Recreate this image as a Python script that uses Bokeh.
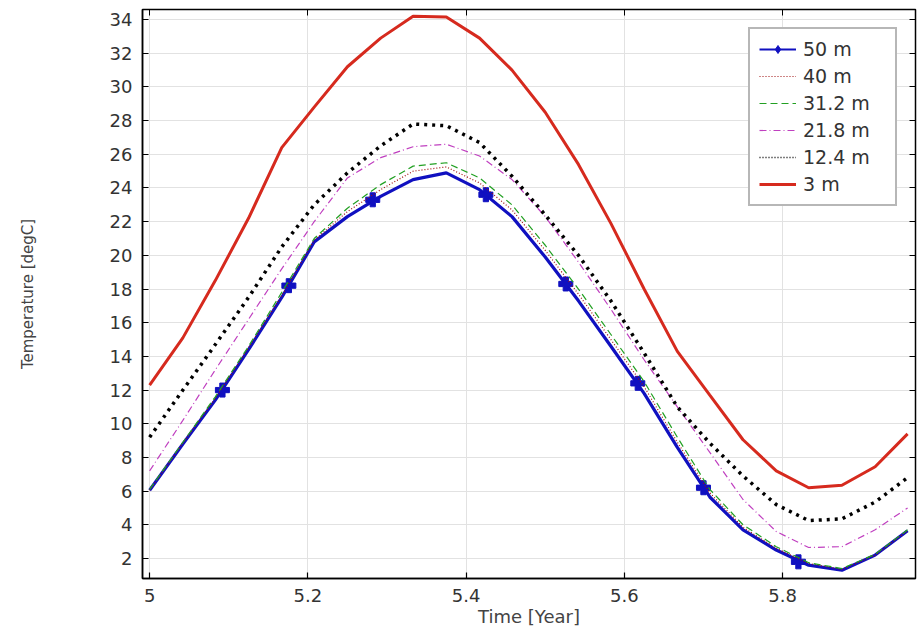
from bokeh.plotting import figure
from bokeh.models import (LinearAxis, FixedTicker, CustomJSTickFormatter, Legend,
                          LegendItem, Range1d)
from bokeh.embed import file_html
from bokeh.resources import INLINE

# ---- data ----
time_year = [5.000, 5.042, 5.083, 5.125, 5.167, 5.208, 5.250, 5.292, 5.333, 5.375,
             5.417, 5.458, 5.500, 5.542, 5.583, 5.625, 5.667, 5.708, 5.750, 5.792,
             5.833, 5.875, 5.917, 5.958]

temp_50m = [6.05, 8.8, 11.4, 14.4, 17.5, 20.8, 22.3, 23.5, 24.5, 24.9, 23.9, 22.3,
            19.9, 17.3, 14.6, 11.8, 8.6, 5.65, 3.7, 2.5, 1.6, 1.3, 2.2, 3.65]
temp_40m = [6.05, 8.85, 11.5, 14.5, 17.6, 20.9, 22.6, 23.9, 25.0, 25.25, 24.3, 22.7,
            20.3, 17.7, 15.0, 12.2, 8.9, 5.9, 3.85, 2.6, 1.7, 1.35, 2.2, 3.65]
temp_31m = [6.1, 8.9, 11.6, 14.6, 17.8, 21.0, 22.8, 24.2, 25.3, 25.5, 24.6, 23.0,
            20.6, 18.0, 15.3, 12.5, 9.2, 6.1, 4.0, 2.7, 1.75, 1.4, 2.25, 3.7]
temp_21m = [7.2, 10.2, 13.2, 16.2, 19.2, 22.0, 24.6, 25.8, 26.45, 26.6, 25.9, 24.5,
            22.3, 19.6, 16.8, 13.8, 11.0, 8.3, 5.5, 3.6, 2.65, 2.7, 3.7, 5.0]
temp_12m = [9.2, 12.0, 14.7, 17.5, 20.5, 23.0, 24.9, 26.5, 27.8, 27.7, 26.7, 24.7,
            22.4, 20.0, 17.3, 14.2, 11.0, 8.85, 6.9, 5.2, 4.25, 4.35, 5.35, 6.8]
temp_3m = [12.3, 15.1, 18.5, 22.2, 26.4, 28.8, 31.2, 32.9, 34.2, 34.15, 32.9, 31.0,
           28.5, 25.4, 21.9, 18.0, 14.3, 11.7, 9.05, 7.2, 6.2, 6.35, 7.45, 9.4]

marker_time_50m = [5.092, 5.176, 5.282, 5.425, 5.526, 5.617, 5.700, 5.820]
marker_temp_50m = [12.0, 18.2, 23.3, 23.6, 18.3, 12.4, 6.2, 1.8]

x_ticks = [5.0, 5.2, 5.4, 5.6, 5.8]
y_ticks = [2, 4, 6, 8, 10, 12, 14, 16, 18, 20, 22, 24, 26, 28, 30, 32, 34]

FONT = "DejaVu Sans"
NAN = float("nan")

p = figure(width=923, height=630, output_backend="svg", toolbar_location=None,
           x_range=Range1d(4.991, 5.968), y_range=Range1d(0.81, 34.6),
           min_border_left=142, min_border_right=8, min_border_top=9,
           min_border_bottom=52)

p.background_fill_color = "white"
p.border_fill_color = "white"
p.outline_line_color = "black"
p.outline_line_width = 1.5

# lines
l50 = p.line(time_year, temp_50m, line_color="#1010c0", line_width=3.2)
s50 = p.scatter(marker_time_50m, marker_temp_50m, marker="plus", size=14,
                fill_color="#1010c0", line_color="#1010c0")
l40 = p.line(time_year, temp_40m, line_color="#a01010", line_width=1.2, line_dash="1 2")
l31 = p.line(time_year, temp_31m, line_color="#22a022", line_width=1.2, line_dash="7 4")
l21 = p.line(time_year, temp_21m, line_color="#c040c0", line_width=1.2, line_dash="7 3 1 3")
l12 = p.line(time_year, temp_12m, line_color="black", line_width=3.5, line_dash="3 5")
l3 = p.line(time_year, temp_3m, line_color="#d62a1e", line_width=3)

# legend-only glyphs (the reference legend shows thinner styles); not visible in the frame
leg50_line = p.line([NAN], [NAN], line_color="#1010c0", line_width=2)
leg50_marker = p.scatter([NAN], [NAN], marker="diamond", size=11,
                         fill_color="#1010c0", line_color="#1010c0")
leg12 = p.line([NAN], [NAN], line_color="black", line_width=1.3, line_dash="1 2")

# axes
xfmt = CustomJSTickFormatter(code="return (Math.round(tick*10)/10).toString();")
for ax in p.xaxis:
    ax.ticker = FixedTicker(ticks=x_ticks)
    ax.formatter = xfmt
    ax.axis_label = "Time [Year]"
    ax.axis_label_standoff = 1
    ax.major_label_standoff = 10
for ax in p.yaxis:
    ax.ticker = FixedTicker(ticks=y_ticks)
    ax.axis_label = "Temperature [degC]"
    ax.axis_label_standoff = 70
    ax.major_label_standoff = 10

for ax in list(p.xaxis) + list(p.yaxis):
    ax.major_tick_in = 6
    ax.major_tick_out = 0
    ax.minor_tick_line_color = None
    ax.axis_line_color = "black"
    ax.axis_line_width = 1.5
    ax.major_tick_line_color = "black"
    ax.major_tick_line_width = 1.2
    ax.major_label_text_font = FONT
    ax.major_label_text_font_size = "18px"
    ax.major_label_text_color = "#333333"
    ax.axis_label_text_font = FONT
    ax.axis_label_text_font_style = "normal"
    ax.axis_label_text_color = "#444444"

p.xaxis[0].axis_label_text_font_size = "18px"
p.yaxis[0].axis_label_text_font_size = "15px"

# tick marks on the top and right edges of the frame (no labels)
top_ax = LinearAxis(ticker=FixedTicker(ticks=x_ticks), major_label_text_font_size="1px",
                    major_label_text_color=None, major_label_standoff=0,
                    major_tick_in=6, major_tick_out=0,
                    minor_tick_line_color=None, axis_line_color="black",
                    major_tick_line_color="black")
right_ax = LinearAxis(ticker=FixedTicker(ticks=y_ticks), major_label_text_font_size="1px",
                      major_label_text_color=None, major_label_standoff=0,
                      major_tick_in=6, major_tick_out=0,
                      minor_tick_line_color=None, axis_line_color="black",
                      major_tick_line_color="black")
p.add_layout(top_ax, "above")
p.add_layout(right_ax, "right")

p.xgrid.ticker = FixedTicker(ticks=x_ticks)
p.ygrid.ticker = FixedTicker(ticks=y_ticks)
p.xgrid.grid_line_color = "#e2e2e2"
p.ygrid.grid_line_color = "#e2e2e2"
p.xgrid.grid_line_width = 1
p.ygrid.grid_line_width = 1

legend = Legend(items=[
    LegendItem(label="50 m", renderers=[leg50_line, leg50_marker]),
    LegendItem(label="40 m", renderers=[l40]),
    LegendItem(label="31.2 m", renderers=[l31]),
    LegendItem(label="21.8 m", renderers=[l21]),
    LegendItem(label="12.4 m", renderers=[leg12]),
    LegendItem(label="3 m", renderers=[l3]),
], location="top_right")
legend.margin = 18
legend.padding = 9
legend.spacing = 5
legend.glyph_width = 37
legend.glyph_height = 20
legend.label_height = 20
legend.label_width = 83
legend.label_standoff = 7
legend.label_text_font = FONT
legend.label_text_font_size = "19px"
legend.label_text_color = "#333333"
legend.border_line_color = "#707070"
legend.border_line_width = 2
legend.background_fill_color = "white"
legend.background_fill_alpha = 1.0
p.add_layout(legend, "center")

open("out.html", "w").write(file_html(p, INLINE))
